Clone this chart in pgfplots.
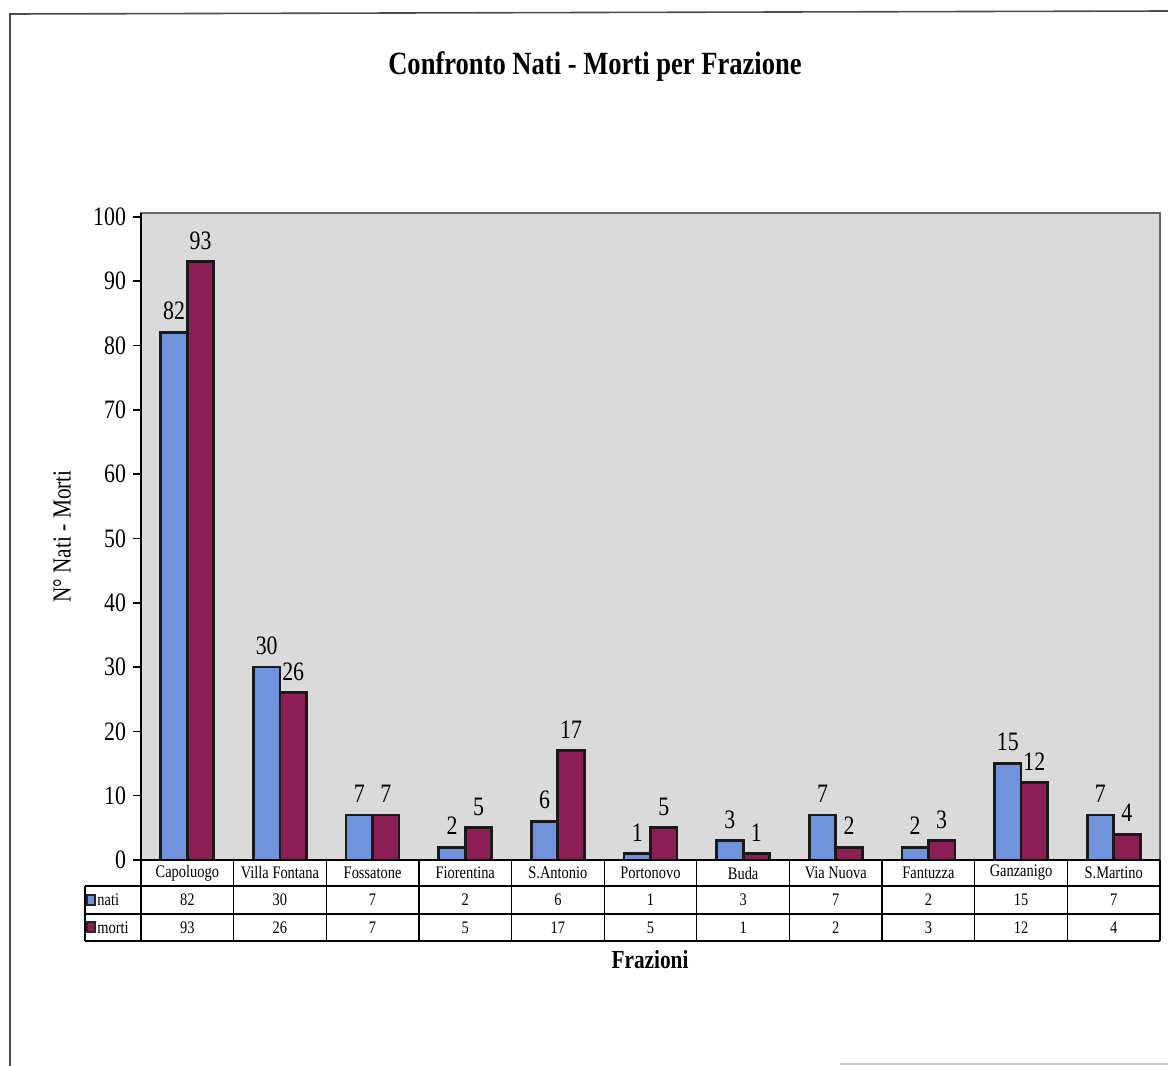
\documentclass[border=0pt]{standalone}
\usepackage{pgfplots}
\pgfplotsset{compat=1.18}
\usepackage{pgfplotstable}
\usepackage{fontspec}
\setmainfont{Liberation Serif}[FakeStretch=0.82]
\definecolor{natiC}{RGB}{112,146,218}
\definecolor{mortiC}{RGB}{140,30,86}
\definecolor{bgC}{RGB}{218,218,218}
\pgfplotsset{/pgf/number format/assume math mode=true}

\pgfplotstableread[col sep=comma]{
idx,name,nati,morti
0,Capoluogo,82,93
1,Villa Fontana,30,26
2,Fossatone,7,7
3,Fiorentina,2,5
4,S.Antonio,6,17
5,Portonovo,1,5
6,Buda,3,1
7,Via Nuova,7,2
8,Fantuzza,2,3
9,Ganzanigo,15,12
10,S.Martino,7,4
}\datatable

\begin{document}
\begin{tikzpicture}
\useasboundingbox (0pt,0pt) rectangle (584pt,-533pt);
% page frame
\draw[black!70, line width=0.8pt] (5pt,-533pt) -- (5pt,-7pt) -- (584pt,-5.5pt);
\draw[black!20, line width=0.6pt] (420pt,-532pt) -- (584pt,-532pt);

\node[font=\fontsize{16.2}{19}\selectfont\bfseries] at (297.5pt,-33.5pt) {Confronto Nati - Morti per Frazione};

\begin{axis}[
  at={(70.5pt,-430pt)}, anchor=south west,
  scale only axis, width=509.5pt, height=323.5pt,
  xmin=-0.5, xmax=10.5, ymin=0, ymax=100.6,
  ytick={0,10,...,100}, xtick=\empty,
  tick align=outside, ytick pos=left, major tick length=4pt,
  tick style={black, line width=0.8pt},
  yticklabel style={font=\fontsize{13.3}{16}\selectfont},
  axis background/.style={fill=bgC},
  axis line style={draw=black!60, line width=0.9pt},
  clip=false,
  ybar, bar width=0.286,
  nodes near coords,
  nodes near coords style={font=\fontsize{13.3}{16}\selectfont, inner sep=1pt, yshift=4.5pt, text=black},
]
\addplot[fill=natiC, draw=black!90, line width=1.4pt, bar shift=-0.143] table[x=idx,y=nati]{\datatable};
\addplot[fill=mortiC, draw=black!90, line width=1.4pt, bar shift=0.143] table[x=idx,y=morti]{\datatable};
\draw[black, line width=1pt] (axis cs:-0.5,0) -- (axis cs:-0.5,100.6);
\end{axis}

% y label and x label
\node[rotate=90, font=\fontsize{13}{16}\selectfont] at (31pt,-268.25pt) {N° Nati - Morti};
\node[font=\fontsize{13}{16}\selectfont\bfseries] at (325pt,-480pt) {Frazioni};

% data table
\begin{scope}[black, line width=0.6pt]
\draw (70.5pt,-430pt) -- (580pt,-430pt);
\draw (42.5pt,-443pt) -- (580pt,-443pt);
\draw (42.5pt,-457pt) -- (580pt,-457pt);
\draw (42.5pt,-470.5pt) -- (580pt,-470.5pt);
\draw (42.5pt,-443pt) -- (42.5pt,-470.5pt);
\foreach \k in {0,...,11} {
  \pgfmathsetmacro\vx{70.5+\k*46.318}
  \draw (\vx pt,-430pt) -- (\vx pt,-470.5pt);
}
\end{scope}
\foreach \i in {0,...,10} {
  \pgfmathsetmacro\cx{70.5+(\i+0.5)*46.318}
  \pgfplotstablegetelem{\i}{name}\of\datatable
  \node[font=\fontsize{8.8}{10}\selectfont] at (\cx pt,-436.5pt) {\pgfplotsretval};
  \pgfplotstablegetelem{\i}{nati}\of\datatable
  \node[font=\fontsize{8.8}{10}\selectfont] at (\cx pt,-450pt) {\pgfplotsretval};
  \pgfplotstablegetelem{\i}{morti}\of\datatable
  \node[font=\fontsize{8.8}{10}\selectfont] at (\cx pt,-463.75pt) {\pgfplotsretval};
}
% row keys
\filldraw[fill=natiC, draw=black!85, line width=0.8pt] (43.5pt,-447.5pt) rectangle (47.5pt,-452.5pt);
\node[anchor=west, font=\fontsize{8.8}{10}\selectfont, inner sep=0pt] at (48.5pt,-450pt) {nati};
\filldraw[fill=mortiC, draw=black!85, line width=0.8pt] (43.5pt,-461pt) rectangle (47.5pt,-466pt);
\node[anchor=west, font=\fontsize{8.8}{10}\selectfont, inner sep=0pt] at (48.5pt,-463.75pt) {morti};
\end{tikzpicture}
\end{document}
